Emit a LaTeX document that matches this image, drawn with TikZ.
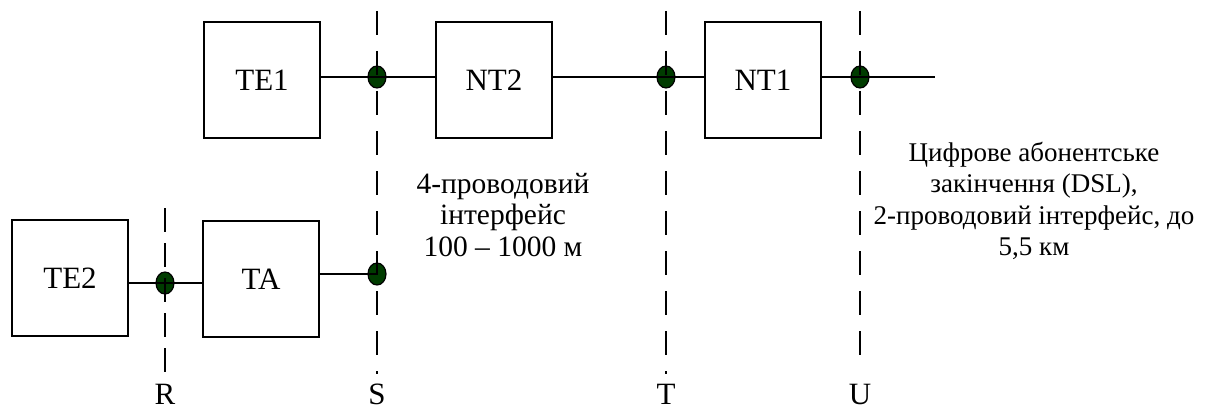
\documentclass[tikz,border=0pt]{standalone}
\usepackage{fontspec}
\setmainfont{Liberation Serif}
\usetikzlibrary{shapes.geometric,calc}
\definecolor{dotgreen}{RGB}{0,60,0}
\begin{document}
\begin{tikzpicture}[x=1pt,y=-1pt,
  box/.style={draw, line width=2.6pt, minimum width=116pt, minimum height=116pt, inner sep=0pt, font=\fontsize{31}{36}\selectfont},
  wire/.style={line width=2.6pt},
  refline/.style={line width=2.6pt, dash pattern=on 24pt off 16pt},
  junction/.style={ellipse, draw, line width=1.2pt, fill=dotgreen, minimum width=18pt, minimum height=22pt, inner sep=0pt},
  lbl/.style={font=\fontsize{31}{36}\selectfont},
  note/.style={align=center, font=\fontsize{29.5}{31.5}\selectfont},
  sidenote/.style={align=center, font=\fontsize{27}{31.5}\selectfont}]
\useasboundingbox (0,0) rectangle (1211,412);
% boxes
\node[box] (TE1) at (262,80) {TE1};
\node[box] (NT2) at (494,80) {NT2};
\node[box] (NT1) at (763,80) {NT1};
\node[box] (TE2) at (70,278) {TE2};
\node[box] (TA) at (261,279) {TA};
% junction dots
\node[junction] (dR) at (165,283) {};
\node[junction] (dS1) at (377,77) {};
\node[junction] (dS2) at (377,274) {};
\node[junction] (dT) at (666,77) {};
\node[junction] (dU) at (860,77) {};
\coordinate (end) at (935,77);
% reference-point lines
\coordinate (Rtop) at (165,208); \coordinate (Rbot) at (165,372);
\coordinate (Stop) at (377,11);  \coordinate (Sbot) at (377,374);
\coordinate (Ttop) at (666,11);  \coordinate (Tbot) at (666,374);
\coordinate (Utop) at (860,11);  \coordinate (Ubot) at (860,363);
\draw[refline, dash pattern=on 24pt off 11pt] (Rtop) -- (Rbot);
\draw[refline] (Stop) -- (Sbot);
\draw[refline] (Ttop) -- (Tbot);
\draw[refline] (Utop) -- (Ubot);
% wires
\draw[wire] (TE1.east |- dS1) -- (NT2.west |- dS1);
\draw[wire] (NT2.east |- dT) -- (NT1.west |- dT);
\draw[wire] (NT1.east |- dU) -- (end);
\draw[wire] (TE2.east |- dR) -- (TA.west |- dR);
\draw[wire] (TA.east |- dS2) -- (dS2.center);
% labels
\node[lbl] (lR) at (165,394) {R};
\node[lbl] (lS) at (377,394) {S};
\node[lbl] (lT) at (666,394) {T};
\node[lbl] (lU) at (860,394) {U};
% notes
\node[note] (n1) at (503,215) {4-проводовий\\інтерфейс\\100 – 1000 м};
\node[sidenote] (n2) at (1034,201) {Цифрове абонентське\\закінчення (DSL),\\2-проводовий інтерфейс, до\\5,5 км};
\end{tikzpicture}
\end{document}
